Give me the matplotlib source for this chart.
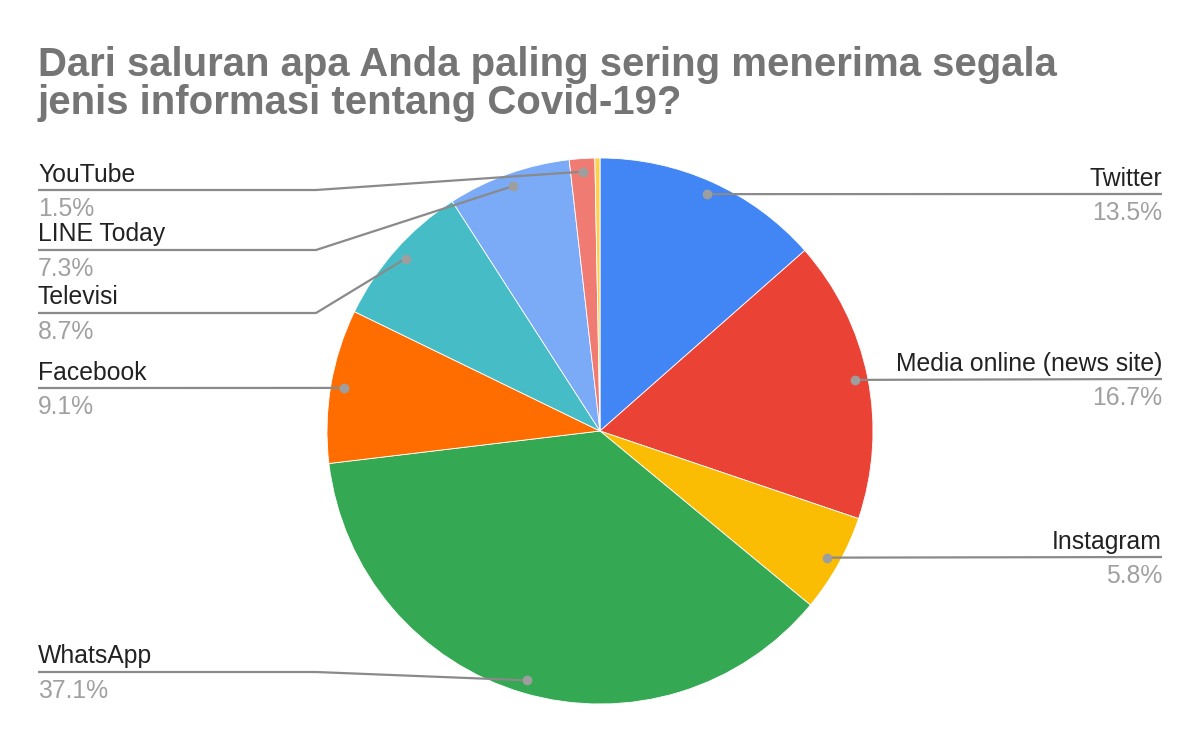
import matplotlib
matplotlib.use("Agg")
import matplotlib.pyplot as plt
import numpy as np

plt.rcParams['font.family'] = ['Liberation Sans', 'DejaVu Sans']

# Data (percent)
channels = ["Twitter", "Media online (news site)", "Instagram", "WhatsApp",
            "Facebook", "Televisi", "LINE Today", "YouTube", "Lainnya"]
shares = [13.5, 16.7, 5.8, 37.1, 9.1, 8.7, 7.3, 1.5, 0.3]
colors = ["#4285F4", "#EA4335", "#FBBC04", "#34A853", "#FF6D01",
          "#46BDC6", "#7BAAF7", "#F07B72", "#FCD04F"]
shown = [True, True, True, True, True, True, True, True, False]

title = "Dari saluran apa Anda paling sering menerima segala\njenis informasi tentang Covid-19?"

# layout (pixels, measured from the top of the picture)
W, H = 1200, 742
label_side = ["right", "right", "right", "left", "left", "left", "left", "left", None]
label_line_y = [194, 379, 557, 672, 388, 313, 250, 190, None]

fig = plt.figure(figsize=(W / 100, H / 100), dpi=100)
ax = fig.add_axes([0, 0, 1, 1])

def py(y):
    # pixel row -> data y
    return H - y

cx, cy, R = 600, py(431), 273
wedges, _ = ax.pie(shares, colors=colors, startangle=90, counterclock=False,
                   center=(cx, cy), radius=R,
                   wedgeprops=dict(edgecolor="white", linewidth=0.6))
ax.set_xlim(0, W)
ax.set_ylim(0, H)
ax.set_aspect("equal")
ax.axis("off")

# baseline of the last title line
fig.text(38 / W, 1 - 114.5 / H, title, fontsize=28.9, fontweight="bold",
         color="#757575", ha="left", va="baseline", linespacing=1.03)

for w, name, val, side, ly, show in zip(wedges, channels, shares, label_side,
                                         label_line_y, shown):
    if not show:
        continue
    mid = np.deg2rad((w.theta1 + w.theta2) / 2)
    dx = cx + 0.952 * R * np.cos(mid)
    dy = cy + 0.952 * R * np.sin(mid)
    if side == "right":
        xs = [dx, 1162]
        ys = [dy, py(ly)]
        tx, ha = 1162, "right"
    else:
        xs = [dx, 316, 38] if abs(dy - py(ly)) > 2 else [dx, 38]
        ys = [dy, py(ly), py(ly)] if len(xs) == 3 else [dy, py(ly)]
        tx, ha = 38, "left"
    ax.plot(xs, ys, color="#8a8a8a", lw=1.6, solid_capstyle="butt", zorder=3)
    ax.plot([dx], [dy], "o", color="#9e9e9e", ms=6, zorder=4)
    ax.text(tx, py(ly - 8.5), name, fontsize=17.8, color="#222222",
            ha=ha, va="baseline")
    ax.text(tx, py(ly + 26), f"{val:.1f}%", fontsize=17.8, color="#a0a0a0",
            ha=ha, va="baseline")

fig.savefig("out.png", dpi=100, facecolor="white")
